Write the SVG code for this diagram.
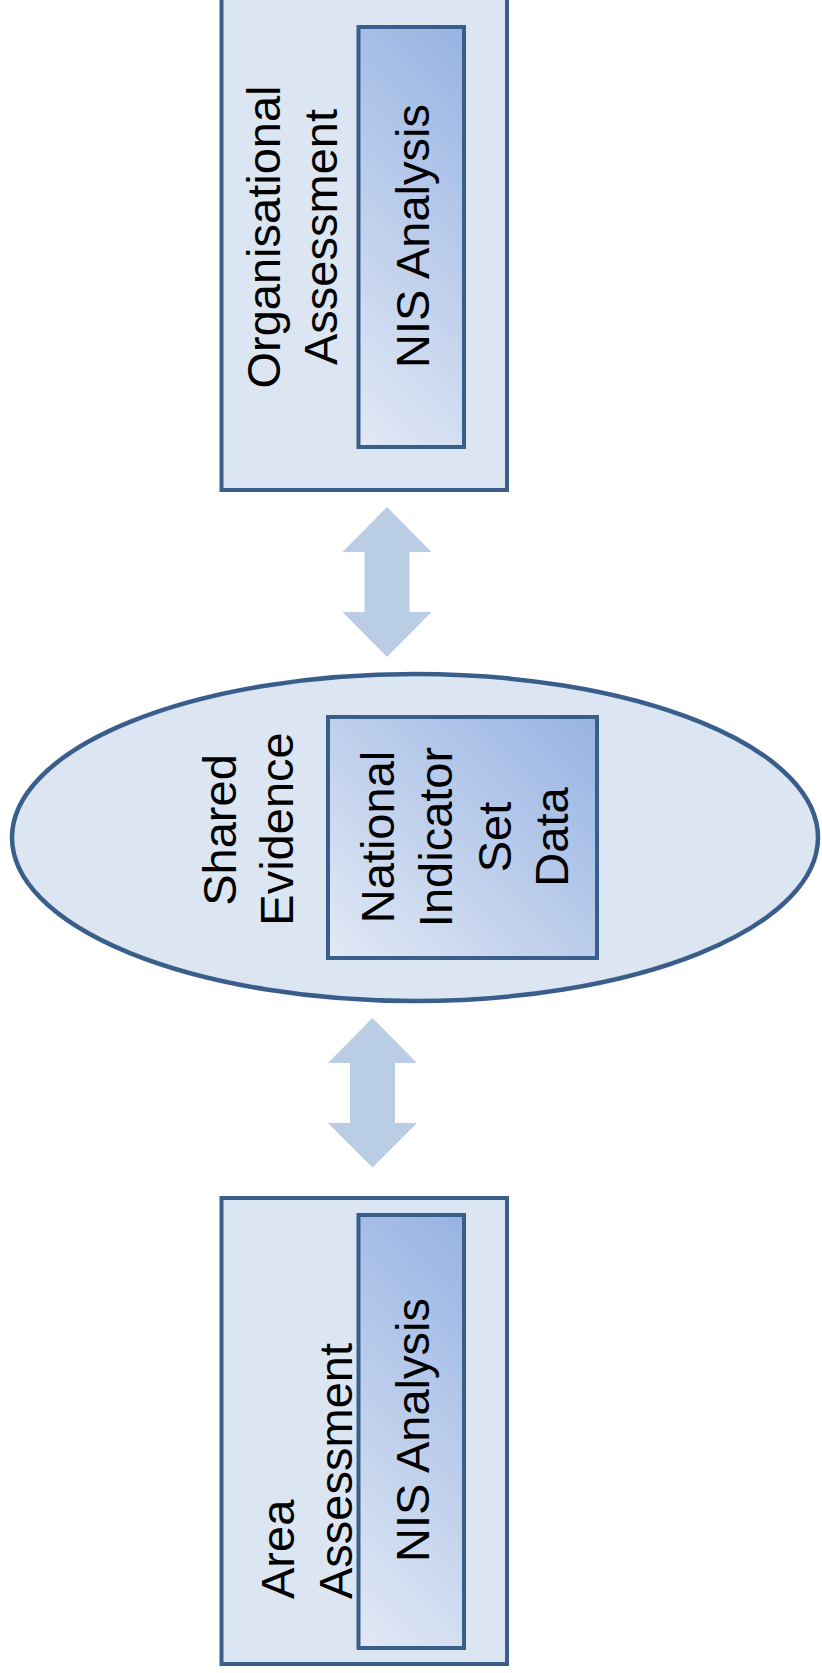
<svg xmlns="http://www.w3.org/2000/svg" width="822" height="1673" viewBox="0 0 822 1673">
<defs>
<linearGradient id="g1" gradientUnits="userSpaceOnUse" x1="358.5" y1="447" x2="621" y2="184">
<stop offset="0" stop-color="#E2E9F5"/>
<stop offset="1" stop-color="#97B3E2"/>
</linearGradient>
<linearGradient id="g2" gradientUnits="userSpaceOnUse" x1="328" y1="958" x2="583" y2="703">
<stop offset="0" stop-color="#E2E9F5"/>
<stop offset="1" stop-color="#97B3E2"/>
</linearGradient>
<linearGradient id="g3" gradientUnits="userSpaceOnUse" x1="358.5" y1="1648" x2="628" y2="1379">
<stop offset="0" stop-color="#E2E9F5"/>
<stop offset="1" stop-color="#97B3E2"/>
</linearGradient>
<style>
.outer{fill:#DCE6F2;stroke:#3A5E8C;stroke-width:4}
.inner{stroke:#3A5E8C;stroke-width:4}
.arrow{fill:#B9CDE5;stroke:none}
text{font-family:"Liberation Sans",Arial,sans-serif;font-size:47px;fill:#000}
</style>
</defs>
<g id="organisational">
<rect class="outer" x="221.5" y="-20" width="285.5" height="510"/>
<rect class="inner" fill="url(#g1)" x="358.5" y="27" width="105.5" height="420"/>
<text transform="translate(280,237) rotate(-90)" text-anchor="middle">Organisational</text>
<text transform="translate(337,237) rotate(-90)" text-anchor="middle">Assessment</text>
<text transform="translate(429,236) rotate(-90)" text-anchor="middle">NIS Analysis</text>
</g>
<g id="shared">
<ellipse class="outer" style="stroke-width:4.5" cx="415" cy="837.5" rx="403" ry="163.5"/>
<rect class="inner" fill="url(#g2)" x="328" y="717" width="269" height="241"/>
<text transform="translate(236,830) rotate(-90)" text-anchor="middle">Shared</text>
<text transform="translate(292.5,829) rotate(-90)" text-anchor="middle">Evidence</text>
<text transform="translate(394,837) rotate(-90)" text-anchor="middle">National</text>
<text transform="translate(452,837) rotate(-90)" text-anchor="middle">Indicator</text>
<text transform="translate(511,837) rotate(-90)" text-anchor="middle">Set</text>
<text transform="translate(568,837) rotate(-90)" text-anchor="middle">Data</text>
</g>
<g id="area">
<rect class="outer" x="221.5" y="1198" width="285.5" height="466"/>
<rect class="inner" fill="url(#g3)" x="358.5" y="1215" width="105.5" height="433"/>
<text transform="translate(293.5,1599) rotate(-90)" text-anchor="start">Area</text>
<text transform="translate(352,1599) rotate(-90)" text-anchor="start">Assessment</text>
<text transform="translate(429,1430) rotate(-90)" text-anchor="middle">NIS Analysis</text>
</g>
<g id="connectors">
<polygon class="arrow" points="387,507 431.5,552 409.5,552 409.5,612 431.5,612 387,657 342.5,612 364.5,612 364.5,552 342.5,552"/>
<polygon class="arrow" points="372.5,1018 417,1063 395,1063 395,1123 417,1123 372.5,1167.5 328,1123 350,1123 350,1063 328,1063"/>
</g>
</svg>
